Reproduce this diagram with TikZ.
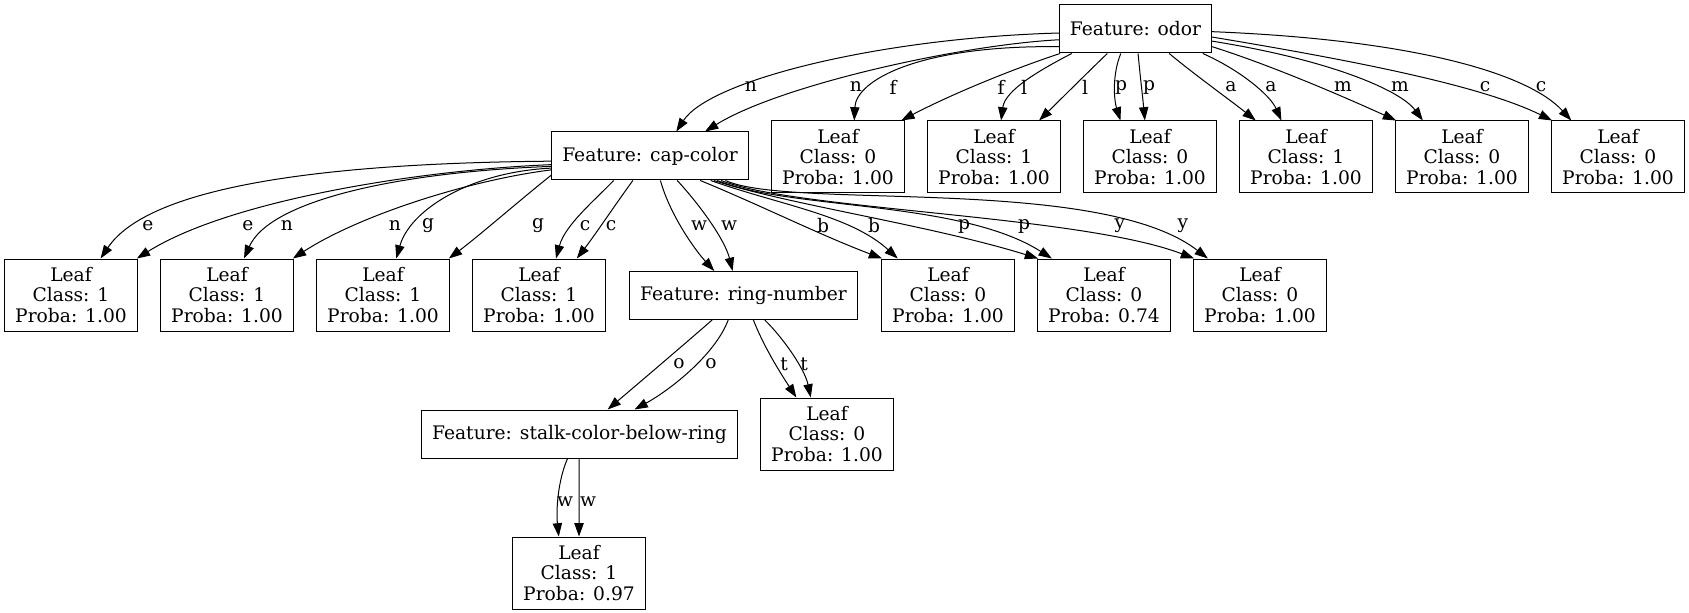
\documentclass[tikz,border=0pt]{standalone}
\usepackage{fontspec}
\setmainfont{DejaVu Serif}
\usetikzlibrary{arrows.meta, positioning}

\begin{document}
\begin{tikzpicture}[x=0.75pt, y=0.75pt, line width=0.75pt,
    every node/.style={font=\fontsize{14}{15.4}\selectfont},
    feat/.style={draw, inner xsep=7.92pt, minimum height=36pt},
    leaf/.style={draw, align=center, inner xsep=7.92pt, minimum width=99pt, minimum height=54pt},
    edge/.style={-{Triangle[length=10pt, width=7pt]}},
    lbl/.style={inner sep=0pt}]
  \useasboundingbox (0,0) rectangle (1689,-613);

  % Feature nodes
  \node[feat] (odor) at (1135.5,-29) {Feature: odor};
  \node[feat] (capc) at (650,-156) {Feature: cap-color};
  \node[feat] (ring) at (743.5,-295.5) {Feature: ring-number};
  \node[feat] (stalk) at (579.5,-434) {Feature: stalk-color-below-ring};

  % Leaves under odor
  \node[leaf] (odorF) at (838,-157) {Leaf\\Class: 0\\Proba: 1.00};
  \node[leaf] (odorL) at (994,-157) {Leaf\\Class: 1\\Proba: 1.00};
  \node[leaf] (odorP) at (1150,-157) {Leaf\\Class: 0\\Proba: 1.00};
  \node[leaf] (odorA) at (1306,-157) {Leaf\\Class: 1\\Proba: 1.00};
  \node[leaf] (odorM) at (1462,-157) {Leaf\\Class: 0\\Proba: 1.00};
  \node[leaf] (odorC) at (1618,-157) {Leaf\\Class: 0\\Proba: 1.00};

  % Leaves under cap-color
  \node[leaf] (capE) at (71,-295) {Leaf\\Class: 1\\Proba: 1.00};
  \node[leaf] (capN) at (227,-295) {Leaf\\Class: 1\\Proba: 1.00};
  \node[leaf] (capG) at (383,-295) {Leaf\\Class: 1\\Proba: 1.00};
  \node[leaf] (capC) at (539,-295) {Leaf\\Class: 1\\Proba: 1.00};
  \node[leaf] (capB) at (948,-295) {Leaf\\Class: 0\\Proba: 1.00};
  \node[leaf] (capP) at (1104,-295) {Leaf\\Class: 0\\Proba: 0.74};
  \node[leaf] (capY) at (1260,-295) {Leaf\\Class: 0\\Proba: 1.00};

  % Lower leaves
  \node[leaf] (ringT) at (827,-434) {Leaf\\Class: 0\\Proba: 1.00};
  \node[leaf] (stalkW) at (579,-573) {Leaf\\Class: 1\\Proba: 0.97};

  % Edges from odor
  \draw[edge] (odor.183) .. controls (880,-38) and (710,-80) .. (capc.43);
  \draw[edge] (odor.188) .. controls (960,-45) and (780,-85) .. (capc.24);
  \draw[edge] (odor.193) .. controls (920,-45) and (856,-80) .. (odorF.66);
  \draw[edge] (odor.198) .. controls (1010,-70) and (950,-95) .. (odorF.30);
  \draw[edge] (odor.201) .. controls (1040,-70) and (1005,-90) .. (odorL.79);
  \draw[edge] (odor.221) .. controls (1085,-75) and (1060,-100) .. (odorL.39);
  \draw[edge] (odor.239) .. controls (1112,-75) and (1114,-100) .. (odorP.129);
  \draw[edge] (odor.276) .. controls (1140,-75) and (1143,-100) .. (odorP.98);
  \draw[edge] (odor.324) .. controls (1195,-75) and (1230,-100) .. (odorA.144);
  \draw[edge] (odor.340) .. controls (1240,-70) and (1270,-95) .. (odorA.124);
  \draw[edge] (odor.347) .. controls (1270,-65) and (1340,-95) .. (odorM.151);
  \draw[edge] (odor.351) .. controls (1330,-60) and (1400,-90) .. (odorM.137);
  \draw[edge] (odor.354) .. controls (1350,-60) and (1480,-85) .. (odorC.151);
  \draw[edge] (odor.358) .. controls (1420,-40) and (1530,-75) .. (odorC.142);
  \node[lbl] (lOn1) at (751,-87) {n};
  \node[lbl] (lOn2) at (856,-87) {n};
  \node[lbl] (lOf1) at (893,-87) {f};
  \node[lbl] (lOf2) at (1001,-87) {f};
  \node[lbl] (lOl1) at (1024,-87) {l};
  \node[lbl] (lOl2) at (1085,-87) {l};
  \node[lbl] (lOp1) at (1121,-87) {p};
  \node[lbl] (lOp2) at (1149,-87) {p};
  \node[lbl] (lOa1) at (1231,-87) {a};
  \node[lbl] (lOa2) at (1271,-87) {a};
  \node[lbl] (lOm1) at (1343,-87) {m};
  \node[lbl] (lOm2) at (1400,-87) {m};
  \node[lbl] (lOc1) at (1485,-87) {c};
  \node[lbl] (lOc2) at (1541,-87) {c};

  % Edges from cap-color
  \draw[edge] (capc.183) .. controls (330,-163) and (150,-185) .. (capE.51);
  \draw[edge] (capc.185) .. controls (420,-170) and (230,-200) .. (capE.29);
  \draw[edge] (capc.186) .. controls (400,-172) and (270,-200) .. (capN.65);
  \draw[edge] (capc.188) .. controls (470,-180) and (360,-215) .. (capN.29);
  \draw[edge] (capc.187) .. controls (470,-172) and (410,-210) .. (capG.70);
  \draw[edge] (capc.191) .. controls (520,-200) and (480,-235) .. (capG.29);
  \draw[edge] (capc.214) .. controls (595,-200) and (565,-225) .. (capC.65);
  \draw[edge] (capc.235) .. controls (615,-205) and (595,-235) .. (capC.44);
  \draw[edge] (capc.293) .. controls (670,-215) and (695,-250) .. (ring.140);
  \draw[edge] (capc.318) .. controls (700,-205) and (725,-240) .. (ring.114);
  \draw[edge] (capc.334) .. controls (760,-205) and (820,-235) .. (capB.151);
  \draw[edge] (capc.338) .. controls (780,-205) and (850,-215) .. (capB.144);
  \draw[edge] (capc.339) .. controls (790,-205) and (930,-225) .. (capP.151);
  \draw[edge] (capc.340) .. controls (790,-210) and (960,-200) .. (capP.145);
  \draw[edge] (capc.341) .. controls (795,-210) and (1080,-215) .. (capY.151);
  \draw[edge] (capc.342) .. controls (790,-210) and (1100,-175) .. (capY.145);
  \node[lbl] (lCe1) at (148,-226) {e};
  \node[lbl] (lCe2) at (248,-226) {e};
  \node[lbl] (lCn1) at (287,-226) {n};
  \node[lbl] (lCn2) at (395,-226) {n};
  \node[lbl] (lCg1) at (428,-226) {g};
  \node[lbl] (lCg2) at (538,-226) {g};
  \node[lbl] (lCc1) at (585,-226) {c};
  \node[lbl] (lCc2) at (611,-226) {c};
  \node[lbl] (lCw1) at (699,-226) {w};
  \node[lbl] (lCw2) at (729,-226) {w};
  \node[lbl] (lCb1) at (823,-226) {b};
  \node[lbl] (lCb2) at (874,-226) {b};
  \node[lbl] (lCp1) at (964,-226) {p};
  \node[lbl] (lCp2) at (1024,-226) {p};
  \node[lbl] (lCy1) at (1120,-226) {y};
  \node[lbl] (lCy2) at (1183,-226) {y};

  % Edges from ring-number
  \draw[edge] (ring.218) .. controls (680,-348) and (640,-382) .. (stalk.41);
  \draw[edge] (ring.238) .. controls (715,-355) and (670,-390) .. (stalk.24);
  \draw[edge] (ring.292) .. controls (765,-350) and (785,-380) .. (ringT.130);
  \draw[edge] (ring.311) .. controls (785,-340) and (805,-370) .. (ringT.114);
  \node[lbl] (lRo1) at (679,-364) {o};
  \node[lbl] (lRo2) at (711,-364) {o};
  \node[lbl] (lRt1) at (784,-364) {t};
  \node[lbl] (lRt2) at (804,-364) {t};

  % Edges from stalk-color-below-ring
  \draw[edge] (stalk.244) .. controls (558,-480) and (556,-510) .. (stalkW.119);
  \draw[edge] (stalk.269) -- (stalkW.90);
  \node[lbl] (lSw1) at (565,-502) {w};
  \node[lbl] (lSw2) at (588,-502) {w};
\end{tikzpicture}
\end{document}
